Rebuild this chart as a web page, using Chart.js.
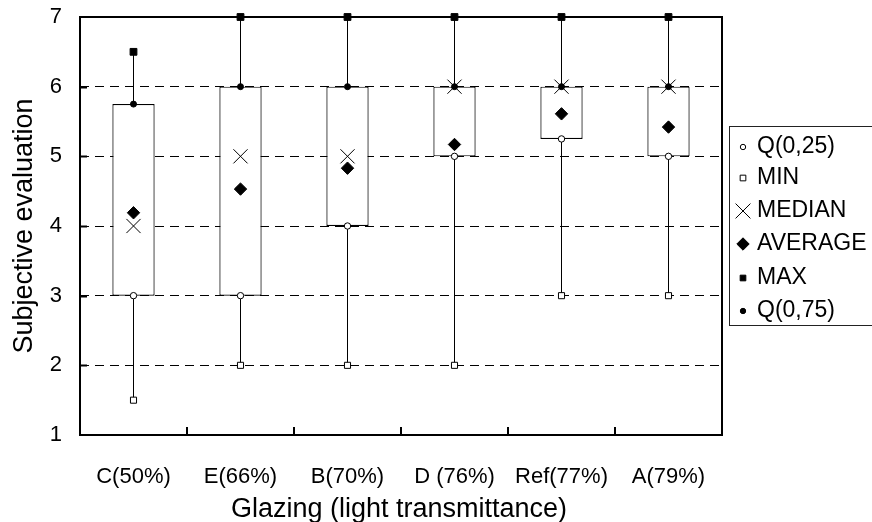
<!DOCTYPE html>
<html>
<head>
<meta charset="utf-8">
<script src="https://cdn.jsdelivr.net/npm/chart.js@4.4.0/dist/chart.umd.min.js"></script>
<style>
html,body{margin:0;padding:0;background:#fff;overflow:hidden}
#wrap{width:872px;height:522px;position:relative}
canvas{display:block}
</style>
</head>
<body>
<div id="wrap"><canvas id="c" width="872" height="522"></canvas></div>
<script>
// ---- data ----
const categories = ['C(50%)', 'E(66%)', 'B(70%)', 'D (76%)', 'Ref(77%)', 'A(79%)'];
const q1Vals     = [3,    3,    4,    5,    5.25, 5];
const minVals    = [1.5,  2,    2,    2,    3,    3];
const medianVals = [4,    5,    5,    6,    6,    6];
const avgVals    = [4.19, 4.53, 4.83, 5.17, 5.61, 5.42];
const maxVals    = [6.5,  7,    7,    7,    7,    7];
const q3Vals     = [5.75, 6,    6,    6,    6,    6];
const yTicks     = [1, 2, 3, 4, 5, 6, 7];
const seriesNames = ['Q(0,25)', 'MIN', 'MEDIAN', 'AVERAGE', 'MAX', 'Q(0,75)'];
const xTitle = 'Glazing (light transmittance)';
const yTitle = 'Subjective evaluation';

const FONT = 'Arial, "Liberation Sans", sans-serif';

function markerSet(label, values, style, radius, fill, border, bw) {
  return {
    type: 'line', label: label, data: values, showLine: false, order: 0, clip: false,
    pointStyle: style, pointRadius: radius, pointHoverRadius: radius,
    pointBackgroundColor: fill, pointBorderColor: border, pointBorderWidth: bw,
    backgroundColor: fill, borderColor: border, borderWidth: bw, isMarker: true
  };
}

const datasets = [
  markerSet(seriesNames[0], q1Vals, 'circle', 3.2, '#ffffff', '#000000', 1),
  markerSet(seriesNames[1], minVals, 'rect', 4.3, '#ffffff', '#000000', 1),
  markerSet(seriesNames[2], medianVals, 'crossRot', 10, '#000000', '#000000', 1),
  markerSet(seriesNames[3], avgVals, 'rectRot', 6.2, '#000000', '#000000', 1),
  markerSet(seriesNames[4], maxVals, 'rect', 4.8, '#000000', '#000000', 1),
  markerSet(seriesNames[5], q3Vals, 'circle', 3.0, '#000000', '#000000', 1),
  {
    type: 'bar', label: 'box', order: 5, grouped: false, clip: false,
    data: categories.map((c, i) => [q1Vals[i], q3Vals[i]]),
    backgroundColor: '#ffffff', borderColor: '#000000', borderWidth: 1.2, borderSkipped: false,
    barPercentage: 0.395, categoryPercentage: 1, inflateAmount: 0
  },
  {
    type: 'bar', label: 'whisker', order: 10, grouped: false, clip: false,
    data: categories.map((c, i) => [minVals[i], maxVals[i]]),
    backgroundColor: '#000000', borderWidth: 0, barThickness: 1, inflateAmount: 0
  }
];

const decor = {
  id: 'decor',
  beforeDatasetsDraw(chart) {
    const ctx = chart.ctx, a = chart.chartArea;
    const xs = chart.scales.x, ys = chart.scales.y;
    ctx.save();
    ctx.strokeStyle = '#000';
    ctx.lineWidth = 2;
    ctx.strokeRect(a.left, a.top, a.right - a.left, a.bottom - a.top);
    // inward ticks on y axis
    yTicks.forEach(v => {
      if (v === yTicks[0] || v === yTicks[yTicks.length - 1]) return;
      const y = Math.round(ys.getPixelForValue(v)) + 0.5;
      ctx.beginPath(); ctx.moveTo(a.left, y); ctx.lineTo(a.left + 7, y); ctx.stroke();
    });
    // inward ticks on x axis at category boundaries
    for (let i = 0; i < categories.length - 1; i++) {
      const x = Math.round((xs.getPixelForValue(i) + xs.getPixelForValue(i + 1)) / 2);
      ctx.beginPath(); ctx.moveTo(x, a.bottom); ctx.lineTo(x, a.bottom - 8); ctx.stroke();
    }
    ctx.restore();
  },
  afterDraw(chart) {
    const ctx = chart.ctx, a = chart.chartArea;
    ctx.save();
    ctx.fillStyle = '#000';
    // axis titles
    ctx.font = '27px ' + FONT;
    ctx.textAlign = 'center';
    ctx.textBaseline = 'alphabetic';
    ctx.fillText(xTitle, 399, 517);
    ctx.save();
    ctx.translate(32, (a.top + a.bottom) / 2);
    ctx.rotate(-Math.PI / 2);
    ctx.fillText(yTitle, 0, 0);
    ctx.restore();
    // legend
    ctx.strokeStyle = '#222';
    ctx.lineWidth = 1;
    ctx.strokeRect(729.5, 126.5, 200, 199);
    ctx.font = '23px ' + FONT;
    ctx.textAlign = 'left';
    ctx.textBaseline = 'middle';
    const rowY = [146, 177, 210, 243, 277, 310];
    chart.data.datasets.filter(d => d.isMarker).forEach((d, i) => {
      const y = rowY[i];
      ctx.fillStyle = d.pointBackgroundColor;
      ctx.strokeStyle = d.pointBorderColor;
      ctx.lineWidth = d.pointBorderWidth;
      let r = d.pointRadius;
      if (d.pointStyle === 'crossRot') r = 10.5;
      if (d.pointStyle === 'circle') r = 2.7;
      if (d.pointStyle === 'rect') r = 4;
      Chart.helpers.drawPoint(ctx, {pointStyle: d.pointStyle, radius: r, rotation: 0, borderWidth: d.pointBorderWidth}, 743, y + 1);
      ctx.fillStyle = '#000';
      ctx.fillText(d.label, 757, y + 1);
    });
    ctx.restore();
  }
};

new Chart(document.getElementById('c'), {
  type: 'bar',
  data: { labels: categories, datasets: datasets },
  options: {
    responsive: false,
    animation: false,
    devicePixelRatio: 1,
    layout: { autoPadding: false, padding: { top: 17, right: 150, left: 0, bottom: 0 } },
    plugins: { legend: { display: false }, tooltip: { enabled: false } },
    scales: {
      x: {
        type: 'category', offset: true,
        grid: { display: false },
        border: { display: false },
        ticks: { font: { size: 22, family: FONT }, color: '#000', padding: 21, maxRotation: 0, autoSkip: false },
        afterFit(s) { s.height = 87; s.paddingLeft = 0; s.paddingRight = 0; }
      },
      y: {
        min: 1, max: 7,
        afterBuildTicks(s) { s.ticks = yTicks.map(v => ({ value: v })); },
        grid: {
          drawTicks: false, lineWidth: 1,
          color: c => (c.tick && (c.tick.value === yTicks[0] || c.tick.value === yTicks[yTicks.length - 1])) ? 'rgba(0,0,0,0)' : '#000'
        },
        border: { display: false, dash: [9, 6] },
        ticks: { font: { size: 22, family: FONT }, color: '#000', padding: 18 },
        afterFit(s) { s.width = 80; s.paddingTop = 0; s.paddingBottom = 0; }
      }
    }
  },
  plugins: [decor]
});
</script>
</body>
</html>
